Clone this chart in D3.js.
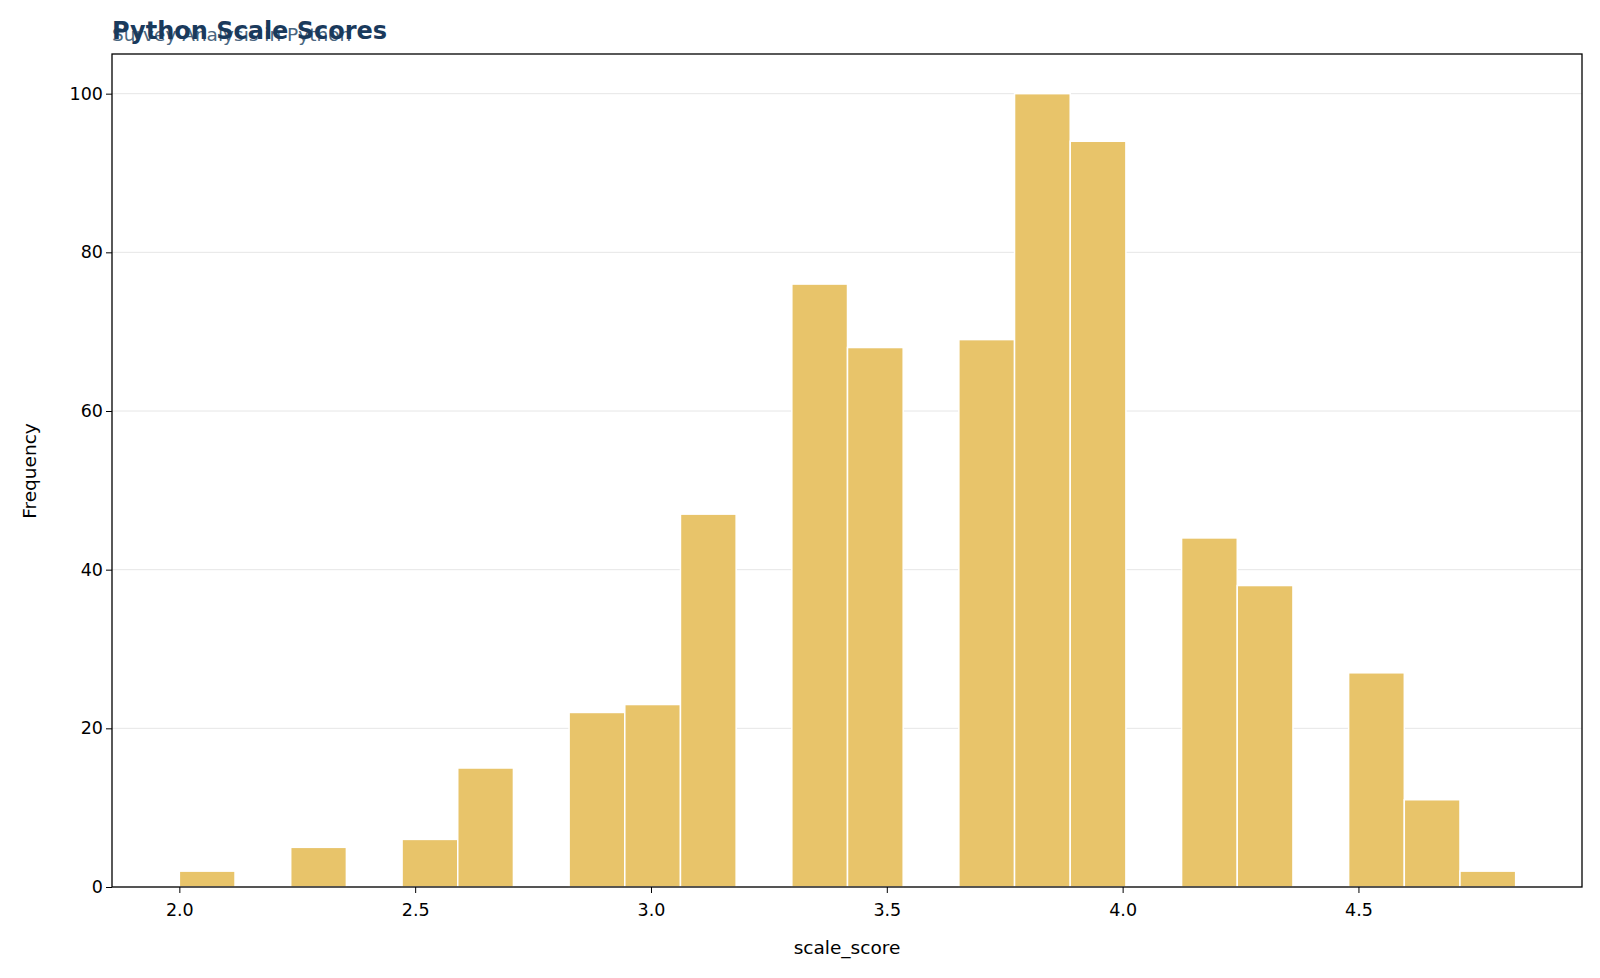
<!DOCTYPE html>
<html><head><meta charset="utf-8">
<script src="https://cdn.jsdelivr.net/npm/d3@7"></script>
<style>body{margin:0;background:#fff}text{font-family:"DejaVu Sans",sans-serif}</style>
</head><body><svg id="c" width="1600" height="978"></svg>
<script>
const binStart = 2.0;
const binWidth = (4.8333333 - 2.0) / 24;
const counts = [2,0,5,0,6,15,0,22,23,47,0,76,68,0,69,100,94,0,44,38,0,27,11,2];
const xTicks = [2.0,2.5,3.0,3.5,4.0,4.5];
const yTicks = [0,20,40,60,80,100];

const svg = d3.select("#c");
const L=112,R=1582,T=54,B=887;
const x = d3.scaleLinear().domain([1.8572,4.974]).range([L,R]);
const y = d3.scaleLinear().domain([0,105]).range([B,T]);

svg.append("g").selectAll("line").data(yTicks).join("line")
 .attr("x1",L).attr("x2",R).attr("y1",d=>y(d)).attr("y2",d=>y(d))
 .attr("stroke","#e6e6e6").attr("stroke-width",1);

svg.append("g").selectAll("rect").data(counts.map((c,i)=>({c,i})).filter(d=>d.c>0)).join("rect")
 .attr("x",d=>x(binStart+d.i*binWidth)).attr("width",d=>x(binStart+(d.i+1)*binWidth)-x(binStart+d.i*binWidth))
 .attr("y",d=>y(d.c)).attr("height",d=>B-y(d.c))
 .attr("fill","#e8c46a").attr("stroke","#fff").attr("stroke-width",1.5);

const gx = svg.append("g").attr("transform",`translate(0,${B})`)
 .call(d3.axisBottom(x).tickValues(xTicks).tickFormat(d3.format(".1f")).tickSizeOuter(0).tickSize(6));
const gy = svg.append("g").attr("transform",`translate(${L},0)`)
 .call(d3.axisLeft(y).tickValues(yTicks).tickSizeOuter(0).tickSize(6));
[gx,gy].forEach(g=>{g.select(".domain").remove();g.selectAll("text").attr("font-size",17.5).attr("fill","#000").attr("font-family","DejaVu Sans");g.selectAll("line").attr("stroke","#000");});
gx.selectAll("text").attr("dy","1.15em");

svg.append("rect").attr("x",L).attr("y",T).attr("width",R-L).attr("height",B-T)
 .attr("fill","none").attr("stroke","#000").attr("stroke-width",1.3);

svg.append("text").attr("x",(L+R)/2).attr("y",954).attr("text-anchor","middle").attr("font-size",18.5).text("scale_score");
svg.append("text").attr("transform","translate(36,471) rotate(-90)").attr("text-anchor","middle").attr("font-size",18.5).text("Frequency");
svg.append("text").attr("x",112).attr("y",41).attr("font-size",18.5).attr("fill","#4a6680").text("Survey Analysis in Python");
svg.append("text").attr("x",112).attr("y",39).attr("font-size",24).attr("font-weight","bold").attr("fill","#1a3a5c").text("Python Scale Scores");
</script></body></html>
